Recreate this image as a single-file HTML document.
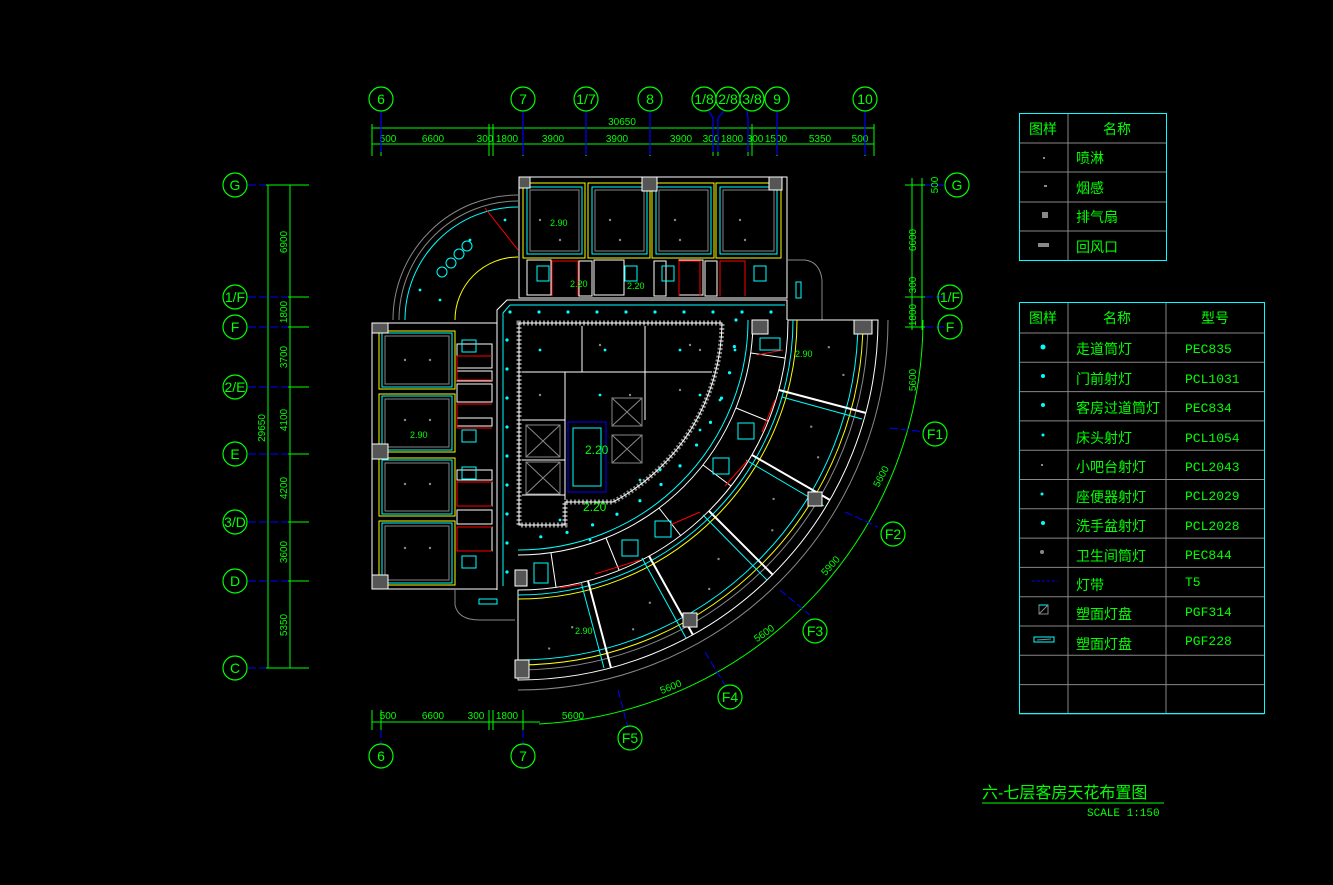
<!DOCTYPE html>
<html><head><meta charset="utf-8"><style>
html,body{margin:0;padding:0;background:#000;}
svg{display:block}
text{font-family:"Liberation Sans","Noto Sans CJK SC",sans-serif;fill:#00ff00}
.m{font-family:"Liberation Mono","Noto Sans CJK SC",monospace}
</style></head><body>
<svg id="s" width="1333" height="885" viewBox="0 0 1333 885" xmlns="http://www.w3.org/2000/svg">
<rect width="1333" height="885" fill="#000"/>
<g id="grid" font-size="13" text-anchor="middle">
<g stroke="#00ff00" stroke-width="1" fill="none">
<line x1="372" y1="128" x2="874" y2="128"/>
<line x1="372" y1="144" x2="874" y2="144"/>
</g>
<text x="622" y="125" font-size="10">30650</text>
<g font-size="10">
<text x="388" y="142">500</text><text x="433" y="142">6600</text><text x="485" y="142">300</text><text x="507" y="142">1800</text><text x="553" y="142">3900</text><text x="617" y="142">3900</text><text x="681" y="142">3900</text><text x="711" y="142">300</text><text x="732" y="142">1800</text><text x="755" y="142">300</text><text x="776" y="142">1500</text><text x="820" y="142">5350</text><text x="860" y="142">500</text>
</g>
<g id="ticks" stroke="#00ff00"></g>
<g stroke="#0000ff" stroke-width="1.2">
<line x1="381" y1="111" x2="381" y2="152"/><line x1="523" y1="111" x2="523" y2="155"/><line x1="586" y1="111" x2="586" y2="155"/><line x1="650" y1="111" x2="650" y2="155"/><line x1="777" y1="111" x2="777" y2="155"/><line x1="865" y1="111" x2="865" y2="155"/>
<polyline points="709,111 713,118 713,152" fill="none"/><polyline points="724,111 718,118 718,152" fill="none"/><polyline points="747,111 748,118 748,152" fill="none"/>
</g>
<g stroke="#00ff00" fill="none" stroke-width="1.2">
<circle cx="381" cy="99" r="12"/><circle cx="523" cy="99" r="12"/><circle cx="586" cy="99" r="12"/><circle cx="650" cy="99" r="12"/><circle cx="704" cy="99" r="12"/><circle cx="728" cy="99" r="12"/><circle cx="752" cy="99" r="12"/><circle cx="777" cy="99" r="12"/><circle cx="865" cy="99" r="12"/>
</g>
<g font-size="14"><text x="381" y="104">6</text><text x="523" y="104">7</text><text x="586" y="104">1/7</text><text x="650" y="104">8</text><text x="704" y="104">1/8</text><text x="728" y="104">2/8</text><text x="752" y="104">3/8</text><text x="777" y="104">9</text><text x="865" y="104">10</text></g>

<g stroke="#00ff00" fill="none">
<line x1="268" y1="185" x2="268" y2="668"/><line x1="290" y1="185" x2="290" y2="668"/>
</g>
<g stroke="#0000ff" stroke-dasharray="8,3">
<line x1="248" y1="185" x2="290" y2="185"/><line x1="248" y1="297" x2="290" y2="297"/><line x1="248" y1="327" x2="300" y2="327"/><line x1="248" y1="387" x2="290" y2="387"/><line x1="248" y1="454" x2="290" y2="454"/><line x1="248" y1="522" x2="290" y2="522"/><line x1="248" y1="581" x2="290" y2="581"/><line x1="248" y1="668" x2="290" y2="668"/>
</g>
<g stroke="#00ff00">
<line x1="266" y1="185" x2="309" y2="185"/><line x1="288" y1="297" x2="309" y2="297"/><line x1="288" y1="327" x2="309" y2="327"/><line x1="288" y1="387" x2="309" y2="387"/><line x1="288" y1="454" x2="309" y2="454"/><line x1="288" y1="522" x2="309" y2="522"/><line x1="288" y1="581" x2="309" y2="581"/><line x1="266" y1="668" x2="309" y2="668"/>
</g>
<g stroke="#00ff00" fill="none" stroke-width="1.2">
<circle cx="235" cy="185" r="12"/><circle cx="235" cy="297" r="12"/><circle cx="235" cy="327" r="12"/><circle cx="235" cy="387" r="12"/><circle cx="235" cy="454" r="12"/><circle cx="235" cy="522" r="12"/><circle cx="235" cy="581" r="12"/><circle cx="235" cy="668" r="12"/>
</g>
<g font-size="14"><text x="235" y="190">G</text><text x="235" y="302">1/F</text><text x="235" y="332">F</text><text x="235" y="392">2/E</text><text x="235" y="459">E</text><text x="235" y="527">3/D</text><text x="235" y="586">D</text><text x="235" y="673">C</text></g>
<g font-size="10">
<text transform="translate(287,242) rotate(-90)">6900</text><text transform="translate(287,312) rotate(-90)">1800</text><text transform="translate(287,357) rotate(-90)">3700</text><text transform="translate(287,420) rotate(-90)">4100</text><text transform="translate(287,488) rotate(-90)">4200</text><text transform="translate(287,552) rotate(-90)">3600</text><text transform="translate(287,625) rotate(-90)">5350</text><text transform="translate(265,428) rotate(-90)">29650</text>
</g>

<g stroke="#00ff00" fill="none">
<line x1="912" y1="178" x2="912" y2="330"/><line x1="922" y1="178" x2="922" y2="330"/>
<line x1="905" y1="185" x2="925" y2="185"/><line x1="905" y1="297" x2="925" y2="297"/><line x1="905" y1="327" x2="925" y2="327"/>
<path d="M923,320 A405,405 0 0 1 539,724"/>
<line x1="372" y1="722" x2="540" y2="722"/>
<line x1="372" y1="710" x2="372" y2="730"/><line x1="381" y1="710" x2="381" y2="730"/><line x1="489" y1="710" x2="489" y2="730"/><line x1="493" y1="710" x2="493" y2="730"/><line x1="523" y1="710" x2="523" y2="730"/>
</g>
<g stroke="#0000ff" stroke-dasharray="8,3">
<line x1="925" y1="185" x2="945" y2="185"/><line x1="925" y1="297" x2="945" y2="297"/><line x1="925" y1="327" x2="945" y2="327"/>
<line x1="381" y1="730" x2="381" y2="744"/><line x1="523" y1="730" x2="523" y2="744"/>
<line x1="890" y1="428" x2="925" y2="432"/><line x1="845" y1="512" x2="878" y2="527"/><line x1="780" y1="590" x2="810" y2="615"/><line x1="705" y1="652" x2="725" y2="685"/><line x1="618" y1="690" x2="628" y2="728"/>
</g>
<g stroke="#00ff00" fill="none" stroke-width="1.2">
<circle cx="957" cy="185" r="12"/><circle cx="950" cy="297" r="12"/><circle cx="950" cy="327" r="12"/>
<circle cx="935" cy="434" r="12"/><circle cx="893" cy="534" r="12"/><circle cx="815" cy="631" r="12"/><circle cx="730" cy="697" r="12"/><circle cx="630" cy="738" r="12"/>
<circle cx="381" cy="756" r="12"/><circle cx="523" cy="756" r="12"/>
</g>
<g font-size="14"><text x="957" y="190">G</text><text x="950" y="302">1/F</text><text x="950" y="332">F</text><text x="935" y="439">F1</text><text x="893" y="539">F2</text><text x="815" y="636">F3</text><text x="730" y="702">F4</text><text x="630" y="743">F5</text><text x="381" y="761">6</text><text x="523" y="761">7</text></g>
<g font-size="10">
<text transform="translate(938,185) rotate(-90)">500</text><text transform="translate(916,240) rotate(-90)">6600</text><text transform="translate(916,285) rotate(-90)">300</text><text transform="translate(916,315) rotate(-90)">1800</text><text transform="translate(916,380) rotate(-90)">5600</text>
<text transform="translate(884,478) rotate(-62)">5600</text><text transform="translate(833,568) rotate(-48)">5900</text><text transform="translate(766,636) rotate(-35)">5600</text><text transform="translate(672,690) rotate(-22)">5600</text>
<text x="388" y="719">500</text><text x="433" y="719">6600</text><text x="476" y="719">300</text><text x="507" y="719">1800</text><text x="573" y="719">5600</text>
</g>
</g>

<g fill="none" stroke-width="1">
<path d="M393,320 A125,125 0 0 1 518,195" stroke="#888"/>
<path d="M399,320 A119,119 0 0 1 518,201" stroke="#888"/>
<path d="M405,320 A113,113 0 0 1 518,207" stroke="#00ffff"/>
<path d="M455,320 A63,63 0 0 1 518,257" stroke="#ffff00"/>
<line x1="485" y1="208" x2="518" y2="250" stroke="#ff0000"/>
<g stroke="#00ffff"><circle cx="442" cy="272" r="5"/><circle cx="451" cy="263" r="5"/><circle cx="459" cy="254" r="5"/><circle cx="467" cy="246" r="5"/></g>
<rect x="519" y="177" width="268" height="121" stroke="#fff"/>
<g stroke="#ffff00"><rect x="523" y="183" width="62" height="75"/><rect x="588" y="183" width="62" height="75"/><rect x="652" y="183" width="62" height="75"/><rect x="716" y="183" width="65" height="75"/></g>
<g stroke="#00ffff"><rect x="527" y="187" width="55" height="67"/><rect x="592" y="187" width="55" height="67"/><rect x="656" y="187" width="55" height="67"/><rect x="720" y="187" width="57" height="67"/></g>
<g stroke="#888"><rect x="530" y="190" width="49" height="61"/><rect x="595" y="190" width="49" height="61"/><rect x="659" y="190" width="49" height="61"/><rect x="723" y="190" width="51" height="61"/></g>
<g fill="#555" stroke="#fff"><rect x="519" y="177" width="11" height="11"/><rect x="642" y="177" width="15" height="14"/><rect x="769" y="177" width="13" height="13"/></g>
<g stroke="#fff"><rect x="527" y="260" width="24" height="35"/><rect x="579" y="261" width="13" height="35"/><rect x="594" y="260" width="30" height="35"/><rect x="654" y="261" width="12" height="35"/><rect x="679" y="260" width="24" height="35"/><rect x="705" y="261" width="12" height="35"/></g>
<g stroke="#ff0000"><polyline points="552,296 552,261 578,261 578,296"/><polyline points="679,296 679,261 700,261 700,296"/><polyline points="720,296 720,261 745,261 745,296"/></g>
<g stroke="#00ffff"><rect x="537" y="266" width="12" height="15"/><rect x="625" y="266" width="12" height="15"/><rect x="662" y="266" width="12" height="15"/><rect x="754" y="266" width="12" height="15"/><rect x="796" y="282" width="5" height="16"/></g>
<path d="M787,260 L805,260 Q820,262 822,280 L822,320" stroke="#888"/>
<polyline points="497,590 497,310 507,300 787,300 787,320" stroke="#fff"/>
<polyline points="503,586 503,313 510,305 785,305" stroke="#00ffff"/>
<rect x="372" y="323" width="125" height="266" stroke="#fff"/>
<g stroke="#ffff00"><rect x="379" y="331" width="76" height="58"/><rect x="379" y="394" width="76" height="58"/><rect x="379" y="458" width="76" height="58"/><rect x="379" y="521" width="76" height="64"/></g>
<g stroke="#00ffff"><rect x="382" y="333" width="70" height="54"/><rect x="382" y="396" width="70" height="54"/><rect x="382" y="460" width="70" height="54"/><rect x="382" y="523" width="70" height="60"/></g>
<g stroke="#888"><rect x="385" y="336" width="64" height="48"/><rect x="385" y="399" width="64" height="48"/><rect x="385" y="463" width="64" height="48"/><rect x="385" y="526" width="64" height="54"/></g>
<g fill="#555" stroke="#fff"><rect x="372" y="323" width="16" height="10"/><rect x="372" y="444" width="16" height="15"/><rect x="372" y="575" width="16" height="14"/></g>
<g stroke="#fff"><rect x="457" y="344" width="35" height="24"/><rect x="457" y="371" width="35" height="10"/><rect x="457" y="384" width="35" height="18"/><rect x="457" y="418" width="35" height="8"/><rect x="457" y="470" width="35" height="10"/><rect x="457" y="482" width="35" height="24"/><rect x="457" y="510" width="35" height="14"/><rect x="457" y="527" width="35" height="24"/></g>
<g stroke="#ff0000"><polyline points="492,356 457,356 457,380 492,380"/><polyline points="492,404 457,404 457,428 492,428"/><polyline points="492,482 457,482 457,506 492,506"/><polyline points="492,527 457,527 457,551 492,551"/></g>
<g stroke="#00ffff"><rect x="462" y="340" width="14" height="12"/><rect x="462" y="430" width="14" height="12"/><rect x="462" y="467" width="14" height="12"/><rect x="462" y="556" width="14" height="12"/><rect x="479" y="599" width="18" height="5"/></g>
<path d="M455,589 L455,605 Q458,620 480,620 L515,620" stroke="#888"/>
<!-- core -->
<path d="M519,323 L722,323 A205,205 0 0 1 613,502 L565,502 L565,525 L519,525 Z" stroke="#888" stroke-width="5" stroke-dasharray="2,2"/>
<path d="M519,323 L722,323 A205,205 0 0 1 613,502 L565,502 L565,525 L519,525 Z" stroke="#fff"/>
<g stroke="#fff"><line x1="522" y1="372" x2="712" y2="372"/><line x1="582" y1="326" x2="582" y2="372"/><line x1="565" y1="372" x2="565" y2="500"/><line x1="645" y1="326" x2="645" y2="420"/><line x1="522" y1="420" x2="565" y2="420"/><line x1="522" y1="460" x2="565" y2="460"/><line x1="522" y1="495" x2="565" y2="495"/></g>
<g stroke="#888"><rect x="526" y="425" width="34" height="32"/><rect x="526" y="462" width="34" height="32"/><rect x="612" y="398" width="30" height="28"/><rect x="612" y="435" width="30" height="28"/>
<path d="M526,425 L560,457 M560,425 L526,457 M526,462 L560,494 M560,462 L526,494 M612,398 L642,426 M642,398 L612,426 M612,435 L642,463 M642,435 L612,463"/></g>
<rect x="568" y="422" width="38" height="70" stroke="#0000ff"/>
<rect x="573" y="428" width="28" height="58" stroke="#00ffff"/>
<path d="M878,320 A360,360 0 0 1 518,680 L518,590 A270,270 0 0 0 788,320 Z" stroke="#fff"/>
<path d="M868,320 A350,350 0 0 1 518,670" stroke="#888"/>
<path d="M863,320 A345,345 0 0 1 518,665" stroke="#ffff00"/>
<path d="M858,320 A340,340 0 0 1 518,660" stroke="#00ffff"/>
<path d="M793,320 A275,275 0 0 1 518,595" stroke="#00ffff"/>
<path d="M797,320 A279,279 0 0 1 518,599" stroke="#ffff00"/>
<path d="M888,320 A370,370 0 0 1 518,690" stroke="#888"/>
<path d="M753,320 A235,235 0 0 1 518,555" stroke="#fff"/>
<path d="M748,320 A230,230 0 0 1 518,550" stroke="#00ffff"/>
<g stroke="#fff" stroke-width="2">
<line x1="779" y1="390" x2="866" y2="413"/><line x1="752" y1="455" x2="830" y2="500"/><line x1="709" y1="511" x2="773" y2="575"/><line x1="649" y1="556" x2="693" y2="635"/><line x1="588" y1="581" x2="611" y2="668"/>
</g>
<g stroke="#00ffff">
<line x1="782" y1="397" x2="862" y2="419"/><line x1="746" y1="460" x2="824" y2="506"/><line x1="703" y1="515" x2="767" y2="580"/><line x1="642" y1="558" x2="686" y2="638"/><line x1="581" y1="582" x2="604" y2="668"/>
</g>
<g stroke="#fff">
<line x1="751" y1="353" x2="785" y2="358"/><line x1="736" y1="408" x2="768" y2="421"/><line x1="703" y1="465" x2="731" y2="486"/><line x1="659" y1="508" x2="681" y2="536"/><line x1="606" y1="538" x2="619" y2="570"/><line x1="551" y1="553" x2="556" y2="587"/>
</g>
<g stroke="#ff0000"><line x1="762" y1="432" x2="775" y2="400"/><line x1="725" y1="486" x2="748" y2="460"/><line x1="670" y1="525" x2="700" y2="512"/><line x1="595" y1="574" x2="640" y2="560"/><line x1="560" y1="588" x2="583" y2="584"/><line x1="757" y1="355" x2="783" y2="350"/></g>
<g fill="#555" stroke="#fff"><rect x="854" y="320" width="18" height="14"/><rect x="752" y="320" width="16" height="14"/><rect x="808" y="492" width="14" height="14"/><rect x="683" y="613" width="14" height="14"/><rect x="515" y="660" width="14" height="18"/><rect x="515" y="570" width="12" height="16"/></g>
<g stroke="#00ffff"><rect x="760" y="338" width="20" height="12"/><rect x="738" y="423" width="16" height="16"/><rect x="713" y="458" width="16" height="16"/><rect x="655" y="521" width="16" height="16"/><rect x="622" y="540" width="16" height="16"/><rect x="534" y="563" width="14" height="20"/></g>
</g>
<g id="dots"></g>
<g font-size="9" fill="#00ff00">
<text x="550" y="226">2.90</text><text x="570" y="287">2.20</text><text x="410" y="438">2.90</text><text x="795" y="357">2.90</text><text x="575" y="634">2.90</text><text x="627" y="289">2.20</text>
<text x="583" y="511" font-size="12">2.20</text><text x="585" y="454" font-size="12">2.20</text>
</g>

<g stroke="#888" fill="none">
<line x1="1068" y1="113" x2="1068" y2="260"/>
<line x1="1019" y1="143" x2="1166" y2="143"/><line x1="1019" y1="172" x2="1166" y2="172"/><line x1="1019" y1="202" x2="1166" y2="202"/><line x1="1019" y1="231" x2="1166" y2="231"/>
</g>
<rect x="1019.5" y="113.5" width="147" height="147" stroke="#00ffff" fill="none"/>
<g font-size="14">
<text x="1043" y="134" text-anchor="middle">图样</text><text x="1117" y="134" text-anchor="middle">名称</text>
<text x="1076" y="163">喷淋</text><text x="1076" y="193">烟感</text><text x="1076" y="222">排气扇</text><text x="1076" y="252">回风口</text>
</g>
<rect x="1042" y="212" width="6" height="6" fill="#888"/><rect x="1038" y="243" width="11" height="4" fill="#888"/>
<rect x="1043" y="157" width="2" height="2" fill="#888"/><rect x="1044" y="185" width="3" height="2" fill="#888"/>

<g stroke="#888" fill="none" id="l2">
<line x1="1068" y1="302" x2="1068" y2="713"/><line x1="1166" y1="302" x2="1166" y2="713"/>
</g>
<rect x="1019.5" y="302.5" width="245" height="411" stroke="#00ffff" fill="none"/>
<g font-size="14">
<text x="1043" y="323" text-anchor="middle">图样</text><text x="1117" y="323" text-anchor="middle">名称</text><text x="1215" y="323" text-anchor="middle">型号</text>
<text x="1076" y="354">走道筒灯</text><text x="1076" y="384">门前射灯</text><text x="1076" y="413">客房过道筒灯</text><text x="1076" y="443">床头射灯</text><text x="1076" y="472">小吧台射灯</text><text x="1076" y="502">座便器射灯</text><text x="1076" y="531">洗手盆射灯</text><text x="1076" y="561">卫生间筒灯</text><text x="1076" y="590">灯带</text><text x="1076" y="619">塑面灯盘</text><text x="1076" y="649">塑面灯盘</text>
</g>
<g font-size="13" class="m">
<text x="1185" y="353" class="m">PEC835</text><text x="1185" y="383" class="m">PCL1031</text><text x="1185" y="412" class="m">PEC834</text><text x="1185" y="442" class="m">PCL1054</text><text x="1185" y="471" class="m">PCL2043</text><text x="1185" y="500" class="m">PCL2029</text><text x="1185" y="530" class="m">PCL2028</text><text x="1185" y="559" class="m">PEC844</text><text x="1185" y="586" class="m">T5</text><text x="1185" y="616" class="m">PGF314</text><text x="1185" y="645" class="m">PGF228</text>
</g>
<g fill="#00ffff"><circle cx="1043" cy="347" r="2.5"/><circle cx="1043" cy="376" r="2"/><circle cx="1043" cy="405" r="2"/><circle cx="1043" cy="435" r="1.5"/><circle cx="1042" cy="494" r="1.5"/><circle cx="1043" cy="523" r="2"/></g>
<rect x="1041" y="464" width="2" height="2" fill="#888"/><circle cx="1042" cy="552" r="2" fill="#888"/>
<line x1="1032" y1="581" x2="1058" y2="581" stroke="#0000ff" stroke-dasharray="3,2"/>
<rect x="1039" y="605" width="9" height="9" fill="none" stroke="#888"/><line x1="1039" y1="605" x2="1048" y2="605" stroke="#00ffff"/><line x1="1039" y1="614" x2="1048" y2="605" stroke="#888"/>
<rect x="1034" y="637" width="20" height="5" fill="none" stroke="#00ffff"/><line x1="1037" y1="640" x2="1051" y2="639" stroke="#888"/>

<text x="982" y="798" font-size="16">六-七层客房天花布置图</text>
<line x1="982" y1="803" x2="1164" y2="803" stroke="#00ff00"/>
<text x="1087" y="816" font-size="11" class="m">SCALE 1:150</text>
</svg>
<script>
(function(){
var NS="http://www.w3.org/2000/svg";
var t=document.getElementById("ticks"),d=document.getElementById("dots");
[372,381,489,493,523,586,650,713,718,748,752,777,865,874].forEach(function(x){var l=document.createElementNS(NS,"line");l.setAttribute("x1",x);l.setAttribute("x2",x);l.setAttribute("y1",124);l.setAttribute("y2",156);t.appendChild(l);});
var l2=document.getElementById("l2");
for(var i=0;i<14;i++){var y=333+i*29.3;var l=document.createElementNS(NS,"line");l.setAttribute("x1",1019);l.setAttribute("x2",1264);l.setAttribute("y1",y);l.setAttribute("y2",y);l2.appendChild(l);}
function dot(x,y,c,r){var e=document.createElementNS(NS,"circle");e.setAttribute("cx",x);e.setAttribute("cy",y);e.setAttribute("r",r||1.6);e.setAttribute("fill",c);d.appendChild(e);}
for(var x=510;x<780;x+=29)dot(x,312,"#00ffff");
for(var y=340;y<590;y+=29)dot(507,y,"#00ffff");
for(var a=0;a<=90;a+=7){var r=a*Math.PI/180;dot(518+218*Math.cos(r),320+218*Math.sin(r),"#00ffff");}
for(var a=5;a<90;a+=15){var r=a*Math.PI/180;dot(518+312*Math.cos(r),320+312*Math.sin(r),"#888",1.2);dot(518+330*Math.cos(r+0.08),320+330*Math.sin(r+0.08),"#888",1.2);}
[[540,220],[560,240],[610,220],[620,240],[675,220],[680,240],[740,220],[745,240],[405,360],[430,360],[405,420],[430,420],[405,484],[430,484],[405,548],[430,548],[600,345],[690,345],[540,395],[630,395],[680,390],[700,350]].forEach(function(p){dot(p[0],p[1],"#888",1.2);});
[[540,350],[605,350],[680,350],[700,395],[600,395],[560,520],[590,540],[640,480],[660,470],[700,430],[720,400],[735,350],[420,290],[440,300],[470,240],[505,220]].forEach(function(p){dot(p[0],p[1],"#00ffff",1.4);});
})();
</script>
</body></html>
